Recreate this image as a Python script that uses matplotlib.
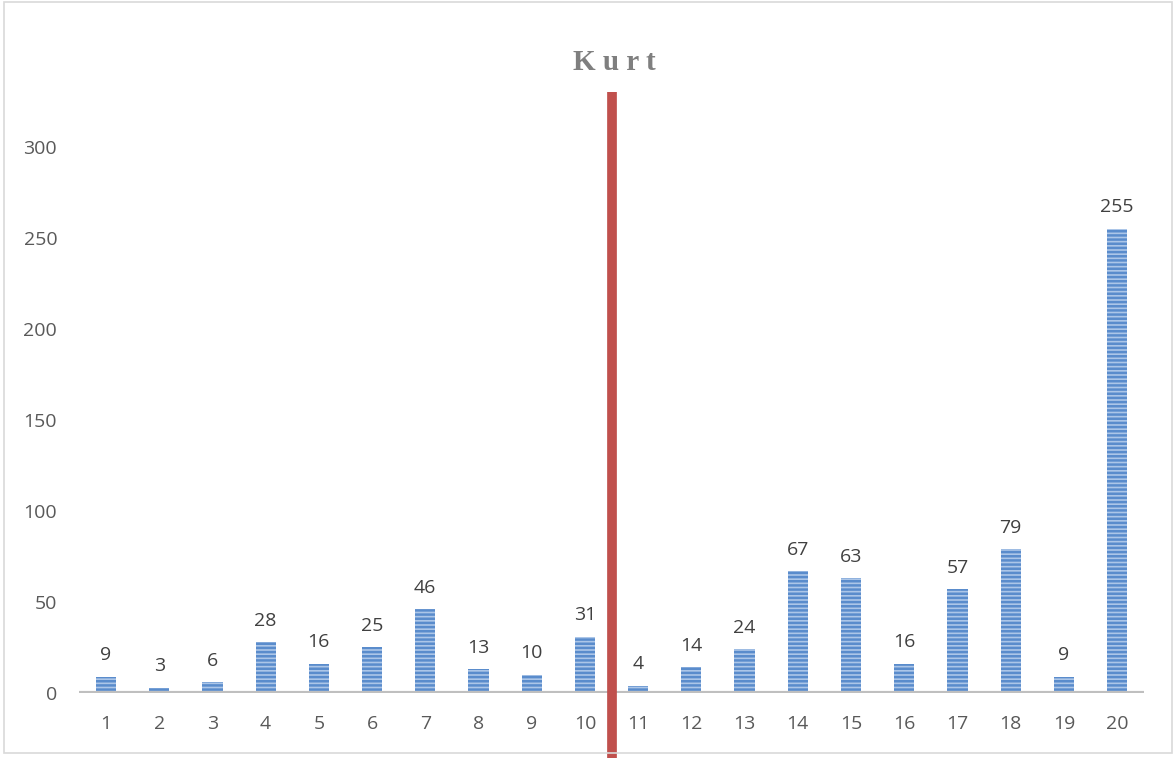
import matplotlib
matplotlib.use("Agg")
import matplotlib.pyplot as plt
from matplotlib.patches import Rectangle
import matplotlib.transforms as mtransforms

categories = [str(i) for i in range(1, 21)]
values = [9, 3, 6, 28, 16, 25, 46, 13, 10, 31, 4, 14, 24, 67, 63, 16, 57, 79, 9, 255]
yticks = [0, 50, 100, 150, 200, 250, 300]
title = "Kurt"

plt.rcParams["hatch.linewidth"] = 1.8
plt.rcParams["hatch.color"] = "#4677bb"

fig = plt.figure(figsize=(11.76, 7.58), dpi=100)
ax = fig.add_axes([0.0675, 0.0858, 0.905, 0.7922])

x = list(range(1, len(values) + 1))
bars = ax.bar(x, values, width=0.38, color="#acc6e8", edgecolor="#5a8ccc",
              linewidth=0, hatch="----", zorder=2)

for xi, v in zip(x, values):
    ax.annotate(str(v), (xi, v), xytext=(0, 9), textcoords="offset points",
                ha="center", va="bottom", fontsize=14, color="#404040",
                family="Open Sans")

ax.set_xlim(0.5, len(values) + 0.5)
ax.set_ylim(0, 330)
ax.set_yticks(yticks)
ax.set_xticks(x)
ax.set_xticklabels(categories)
for sp in ax.spines.values():
    sp.set_visible(False)
ax.axhline(0, color="#bfbfbf", linewidth=3, zorder=3)
ax.tick_params(axis="both", length=0, labelsize=14, labelcolor="#595959")
ax.tick_params(axis="y", pad=16)
ax.tick_params(axis="x", pad=16)
for lbl in ax.get_xticklabels() + ax.get_yticklabels():
    lbl.set_family("Open Sans")

# red divider between the two halves, running down to the figure edge
trans = mtransforms.blended_transform_factory(ax.transData, ax.transAxes)
ax.plot([10.5, 10.5], [1.0, -0.12], transform=trans, color="#c0504d",
        linewidth=7, solid_capstyle="butt", clip_on=False, zorder=4)

fig.text(0.522, 0.918, "K u r t", ha="center", va="center", fontsize=21,
         fontweight="bold", family="Liberation Serif", color="#7f7f7f")

# thin outer frame
fig.patches.append(Rectangle((0.003, 0.007), 0.994, 0.99, transform=fig.transFigure,
                             fill=False, edgecolor="#d9d9d9", linewidth=1.2))

fig.savefig("out.png", dpi=100, facecolor="white")
